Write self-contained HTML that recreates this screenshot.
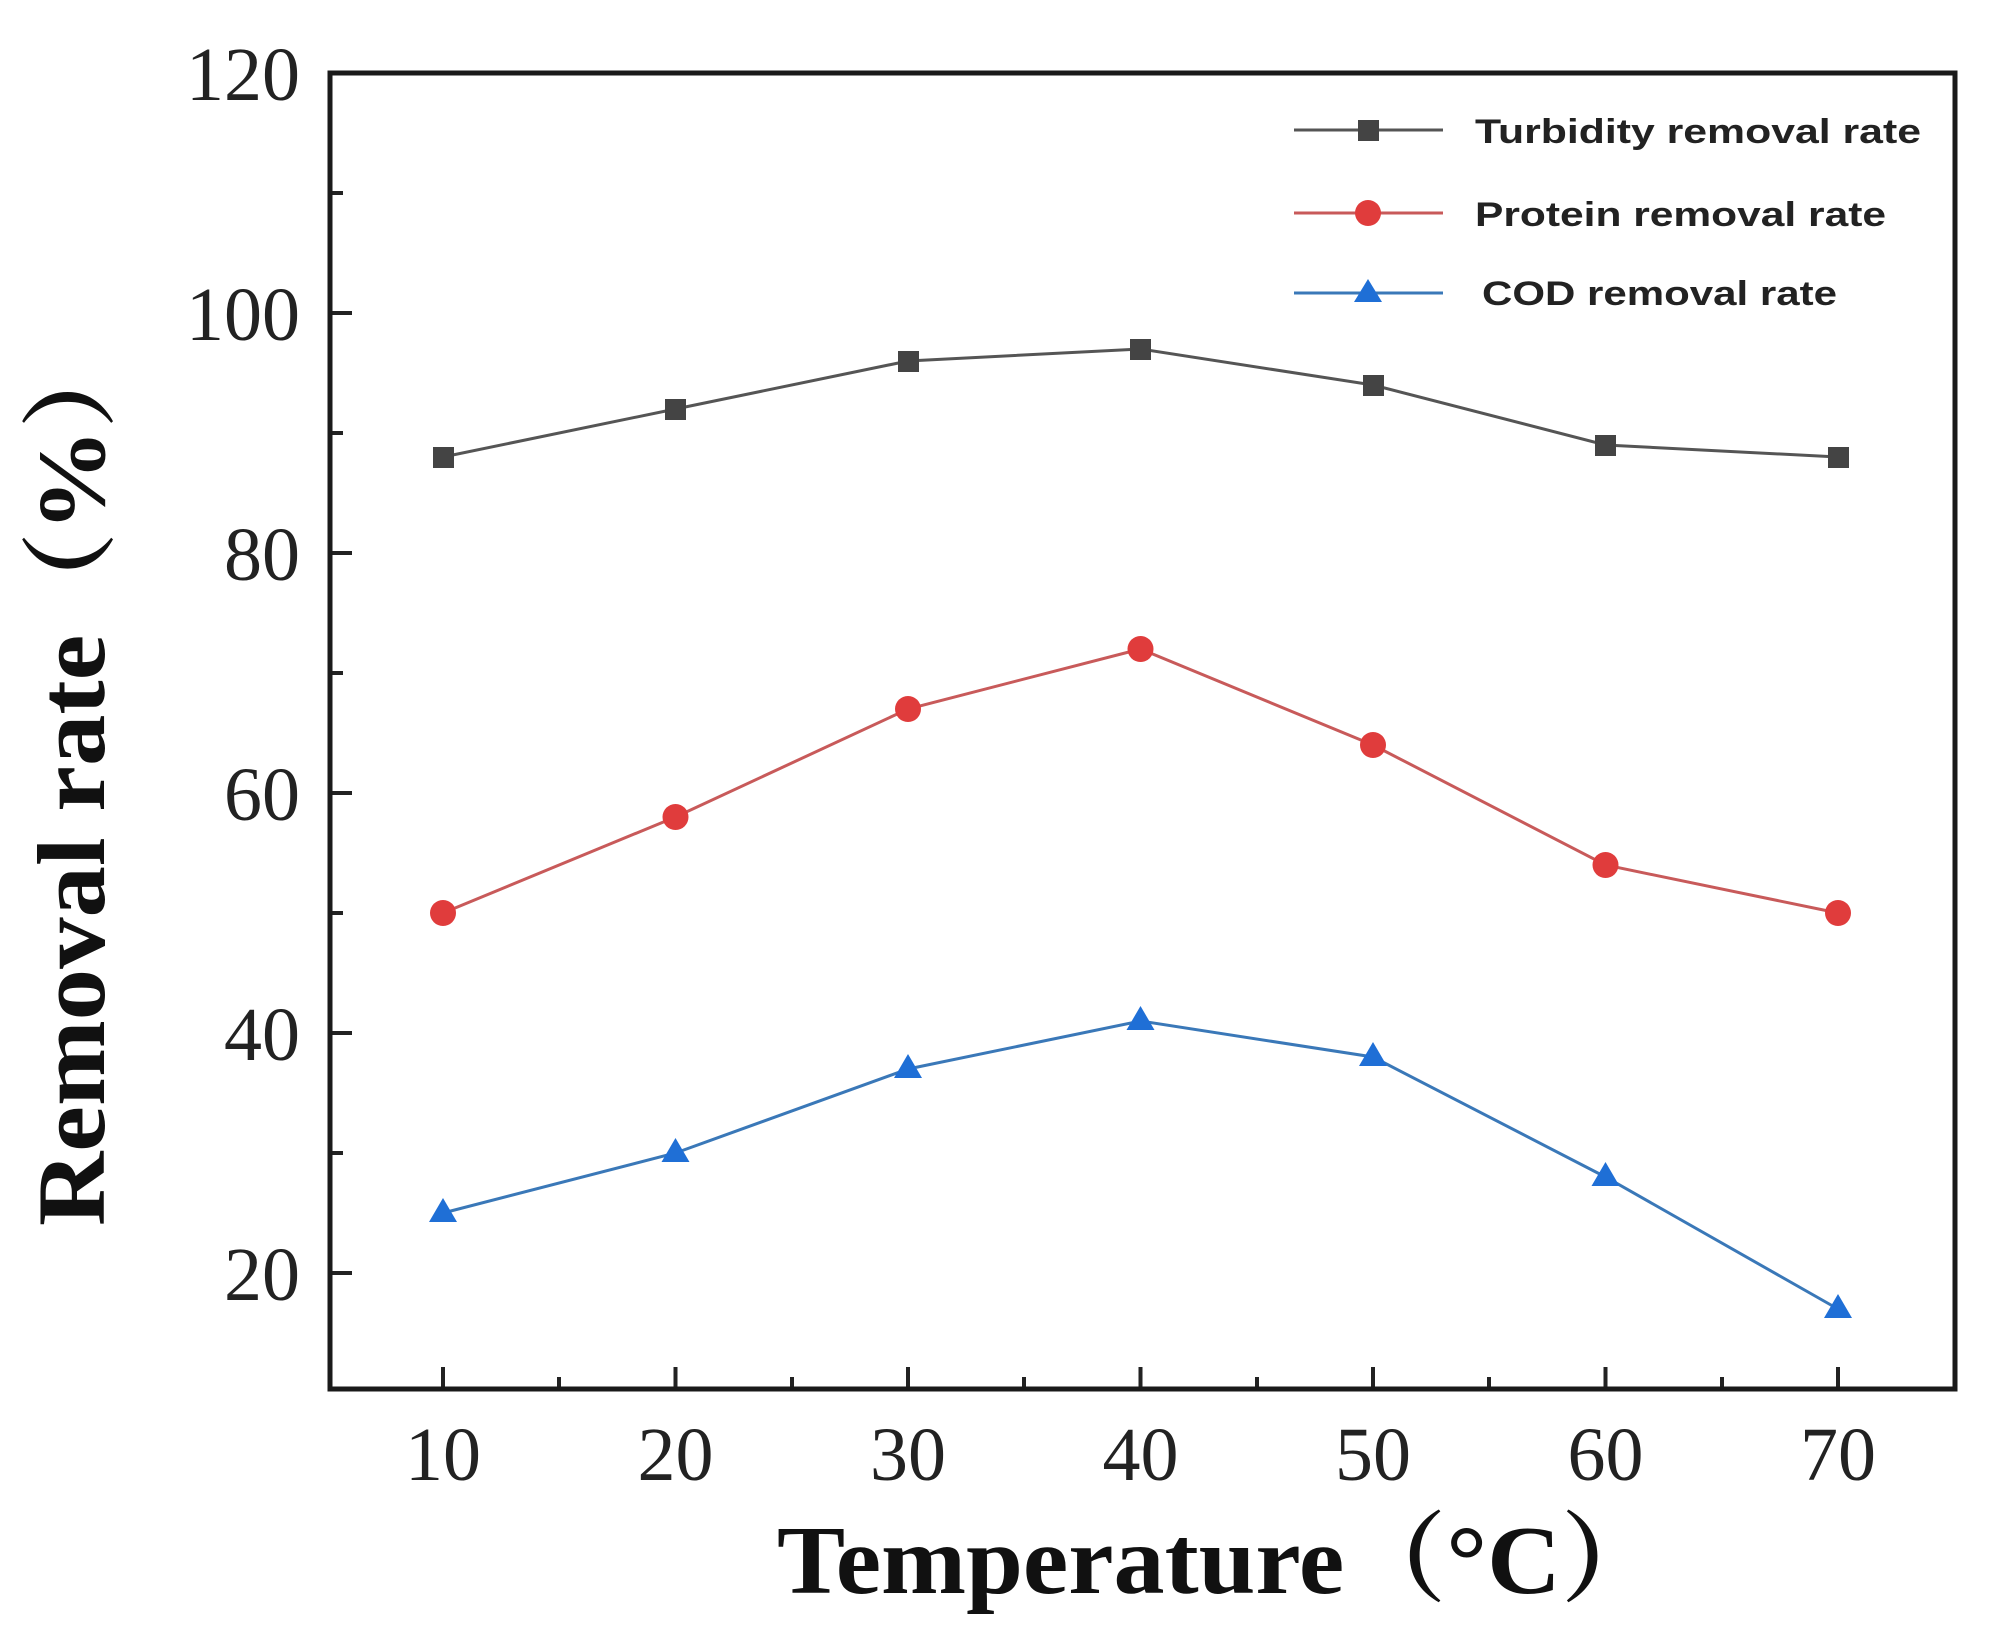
<!DOCTYPE html>
<html><head><meta charset="utf-8"><style>html,body{margin:0;padding:0;background:#fff}</style></head>
<body>
<svg width="2016" height="1636" viewBox="0 0 2016 1636" xmlns="http://www.w3.org/2000/svg">
<rect width="2016" height="1636" fill="#fff"/>
<g stroke="#222" stroke-width="4">
<line x1="330" y1="313" x2="352" y2="313"/><line x1="330" y1="553" x2="352" y2="553"/><line x1="330" y1="793" x2="352" y2="793"/><line x1="330" y1="1033" x2="352" y2="1033"/><line x1="330" y1="1273" x2="352" y2="1273"/>
<line x1="330" y1="193" x2="343" y2="193"/><line x1="330" y1="433" x2="343" y2="433"/><line x1="330" y1="673" x2="343" y2="673"/><line x1="330" y1="913" x2="343" y2="913"/><line x1="330" y1="1153" x2="343" y2="1153"/>
<line x1="443" y1="1389" x2="443" y2="1367"/><line x1="675.5" y1="1389" x2="675.5" y2="1367"/><line x1="908" y1="1389" x2="908" y2="1367"/><line x1="1140.5" y1="1389" x2="1140.5" y2="1367"/><line x1="1373" y1="1389" x2="1373" y2="1367"/><line x1="1605.5" y1="1389" x2="1605.5" y2="1367"/><line x1="1838" y1="1389" x2="1838" y2="1367"/>
<line x1="559" y1="1389" x2="559" y2="1377"/><line x1="792" y1="1389" x2="792" y2="1377"/><line x1="1024" y1="1389" x2="1024" y2="1377"/><line x1="1257" y1="1389" x2="1257" y2="1377"/><line x1="1489" y1="1389" x2="1489" y2="1377"/><line x1="1722" y1="1389" x2="1722" y2="1377"/>
</g>
<rect x="330" y="73" width="1625" height="1316" fill="none" stroke="#1a1a1a" stroke-width="5"/>
<g font-family="Liberation Serif, serif" font-size="76" fill="#222" text-anchor="end">
<text x="300" y="100">120</text><text x="300" y="340">100</text><text x="300" y="580">80</text><text x="300" y="820">60</text><text x="300" y="1060">40</text><text x="300" y="1300">20</text>
</g>
<g font-family="Liberation Serif, serif" font-size="76" fill="#222" text-anchor="middle">
<text x="443" y="1480">10</text><text x="675.5" y="1480">20</text><text x="908" y="1480">30</text><text x="1140.5" y="1480">40</text><text x="1373" y="1480">50</text><text x="1605.5" y="1480">60</text><text x="1838" y="1480">70</text>
</g>
<text x="777" y="1593" textLength="886" lengthAdjust="spacingAndGlyphs" font-family="Liberation Serif, 'Noto Serif CJK SC', serif" font-weight="bold" font-size="98" fill="#111">Temperature（°C）</text>
<text transform="translate(104,1226) rotate(-90)" textLength="900" lengthAdjust="spacingAndGlyphs" font-family="Liberation Serif, 'Noto Serif CJK SC', serif" font-weight="bold" font-size="96" fill="#111">Removal rate（%）</text>
<polyline fill="none" stroke="#555" stroke-width="3" points="443,457 675.5,409 908,361 1140.5,349 1373,385 1605.5,445 1838,457"/>
<g fill="#444">
<rect x="433" y="447" width="21" height="21"/><rect x="665" y="399" width="21" height="21"/><rect x="898" y="351" width="21" height="21"/><rect x="1130" y="339" width="21" height="21"/><rect x="1363" y="375" width="21" height="21"/><rect x="1595" y="435" width="21" height="21"/><rect x="1828" y="447" width="21" height="21"/>
</g>
<polyline fill="none" stroke="#c85a5a" stroke-width="3" points="443,913 675.5,817 908,709 1140.5,649 1373,745 1605.5,865 1838,913"/>
<g fill="#e03c3c">
<circle cx="443" cy="913" r="13"/><circle cx="675.5" cy="817" r="13"/><circle cx="908" cy="709" r="13"/><circle cx="1140.5" cy="649" r="13"/><circle cx="1373" cy="745" r="13"/><circle cx="1605.5" cy="865" r="13"/><circle cx="1838" cy="913" r="13"/>
</g>
<polyline fill="none" stroke="#3a78b8" stroke-width="3" points="443,1213 675.5,1153 908,1069 1140.5,1021 1373,1057 1605.5,1177 1838,1309"/>
<g fill="#1f6fd6">
<polygon points="443,1198 457,1222 429,1222"/><polygon points="675.5,1138 689.5,1162 661.5,1162"/><polygon points="908,1054 922,1078 894,1078"/><polygon points="1140.5,1006 1154.5,1030 1126.5,1030"/><polygon points="1373,1042 1387,1066 1359,1066"/><polygon points="1605.5,1162 1619.5,1186 1591.5,1186"/><polygon points="1838,1294 1852,1318 1824,1318"/>
</g>
<line x1="1294" y1="130" x2="1443" y2="130" stroke="#555" stroke-width="3"/><rect x="1358" y="120" width="21" height="21" fill="#444"/>
<line x1="1294" y1="213" x2="1443" y2="213" stroke="#c85a5a" stroke-width="3"/><circle cx="1368" cy="213" r="13" fill="#e03c3c"/>
<line x1="1294" y1="293" x2="1443" y2="293" stroke="#3a78b8" stroke-width="3"/><polygon points="1368,279 1382,302 1354,302" fill="#1f6fd6"/>
<g font-family="Liberation Sans, sans-serif" font-weight="bold" font-size="34" fill="#222">
<text x="1475" y="143" textLength="446" lengthAdjust="spacingAndGlyphs">Turbidity removal rate</text>
<text x="1475" y="226" textLength="411" lengthAdjust="spacingAndGlyphs">Protein removal rate</text>
<text x="1482" y="305" textLength="355" lengthAdjust="spacingAndGlyphs">COD removal rate</text>
</g>
</svg>
</body></html>
